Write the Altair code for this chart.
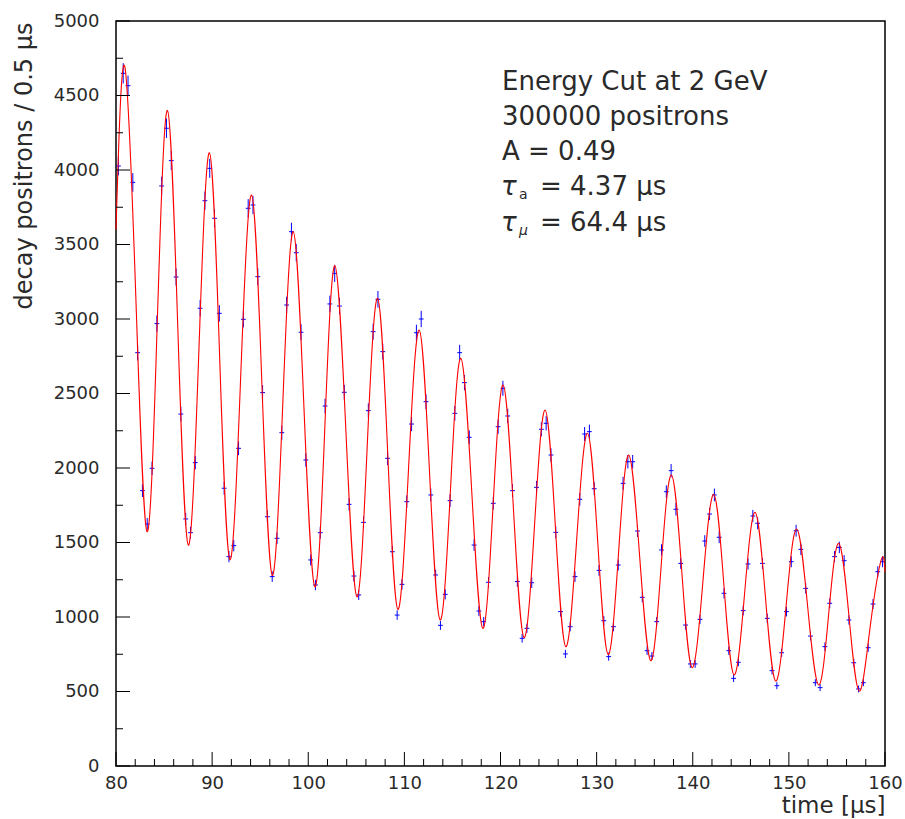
import altair as alt
import pandas as pd

# ---------------- data ----------------
bin_start = 80.25   # first bin centre (µs)
bin_step = 0.5      # bin width (µs)
counts = [
    4027, 4649, 4566, 3917, 2774, 1848, 1624, 1998, 2969, 3893,
    4280, 4063, 3282, 2362, 1658, 1566, 2036, 3072, 3794, 4011,
    3676, 3038, 1864, 1405, 1479, 2132, 2998, 3743, 3765, 3284,
    2506, 1673, 1271, 1528, 2237, 3094, 3586, 3445, 2911, 2054,
    1383, 1215, 1566, 2416, 3101, 3306, 3087, 2508, 1756, 1275,
    1148, 1635, 2385, 2915, 3132, 2781, 2065, 1438, 1013, 1219,
    1774, 2295, 2908, 3000, 2445, 1819, 1282, 944, 1152, 1781,
    2367, 2774, 2573, 2206, 1483, 1040, 969, 1233, 1763, 2277,
    2535, 2349, 1848, 1238, 857, 924, 1230, 1870, 2260, 2300,
    2087, 1568, 1036, 752, 935, 1271, 1790, 2228, 2244, 1861,
    1313, 975, 734, 935, 1349, 1897, 2042, 2042, 1577, 1132,
    774, 738, 969, 1450, 1841, 1982, 1723, 1360, 946, 685,
    685, 984, 1510, 1691, 1819, 1535, 1159, 774, 588, 696,
    1043, 1356, 1678, 1629, 1360, 991, 640, 539, 760, 1036,
    1371, 1579, 1454, 1192, 872, 559, 526, 801, 1092, 1405,
    1467, 1378, 980, 693, 517, 559, 794, 1087, 1304, 1371,
]
times = [bin_start + bin_step * i for i in range(len(counts))]

# fitted curve: peaks, troughs and crossings
fit_t = [80.0, 80.9, 82.07, 83.23, 84.3, 85.35, 86.43, 87.52, 88.63, 89.72,
         90.78, 91.85, 92.97, 94.1, 95.18, 96.26, 97.35, 98.44, 99.56, 100.69,
         101.73, 102.77, 103.92, 105.06, 106.13, 107.21, 108.27, 109.32, 110.43, 111.54,
         112.63, 113.72, 114.8, 115.87, 117.02, 118.16, 119.22, 120.27, 121.36, 122.45,
         123.55, 124.64, 125.72, 126.79, 127.92, 129.05, 130.13, 131.2, 132.27, 133.34,
         134.49, 135.63, 136.7, 137.78, 138.86, 139.93, 141.06, 142.18, 143.24, 144.3,
         145.39, 146.48, 147.56, 148.63, 149.72, 150.81, 151.96, 153.1, 154.14, 155.18,
         156.26, 157.33, 158.48, 159.62, 160.0]
fit_v = [3600, 4698, 3135, 1573, 2990, 4400, 2940, 1483, 2800, 4116,
         2750, 1385, 2610, 3832, 2560, 1280, 2430, 3586, 2395, 1203,
         2280, 3358, 2245, 1136, 2140, 3139, 2095, 1051, 1990, 2926,
         1955, 980, 1860, 2736, 1830, 924, 1740, 2557, 1710, 862,
         1625, 2389, 1595, 801, 1515, 2233, 1490, 749, 1420, 2087,
         1395, 707, 1330, 1953, 1305, 660, 1240, 1823, 1215, 611,
         1155, 1702, 1135, 570, 1080, 1591, 1065, 544, 1020, 1494,
         1000, 503, 945, 1387, 1300]

x_labels = [80, 90, 100, 110, 120, 130, 140, 150, 160]
y_labels = [0, 500, 1000, 1500, 2000, 2500, 3000, 3500, 4000, 4500, 5000]
x_minor = [82, 84, 86, 88, 92, 94, 96, 98, 102, 104, 106, 108, 112, 114, 116, 118,
           122, 124, 126, 128, 132, 134, 136, 138, 142, 144, 146, 148, 152, 154, 156, 158]
y_minor = [250, 750, 1250, 1750, 2250, 2750, 3250, 3750, 4250, 4750]

info_lines = ["Energy Cut at 2 GeV", "300000 positrons", "A = 0.49"]
tau_a = "= 4.37 μs"
tau_mu = "= 64.4 μs"

# ---------------- chart ----------------
W, H = 769, 745
FONT = "DejaVu Sans"
BLUE = "#0000ff"
RED = "#ff0000"
INK = "#2a2a2a"

xs = alt.Scale(domain=[80, 160], nice=False, zero=False)
ys = alt.Scale(domain=[0, 5000], nice=False, zero=True)

df = pd.DataFrame({"t": times, "n": counts})
fit = pd.DataFrame({"t": fit_t, "v": fit_v})

base = alt.Chart(df).transform_calculate(
    lo="datum.n - sqrt(datum.n)",
    hi="datum.n + sqrt(datum.n)",
    tl="datum.t - 0.25",
    tr="datum.t + 0.25",
)

xaxis = alt.Axis(values=x_labels, format="d", ticks=False, domain=False, grid=False,
                 labelFlush=False, labelFontSize=18, labelFont=FONT, labelColor=INK,
                 labelPadding=8, title="time [μs]", titleFont=FONT,
                 titleFontSize=23, titleFontWeight="normal", titleColor=INK,
                 titleAnchor="end", titleAlign="right", titleX=W, titleY=46,
                 titleBaseline="alphabetic")
yaxis = alt.Axis(values=y_labels, format="d", ticks=False, domain=False, grid=False,
                 labelFlush=False, labelFontSize=18, labelFont=FONT, labelColor=INK,
                 labelPadding=17, title="decay positrons / 0.5 μs", titleFont=FONT,
                 titleFontSize=24, titleFontWeight="normal", titleColor=INK,
                 titleAnchor="end", titleAngle=-90, titleAlign="right",
                 titleX=-92, titleY=1, titleBaseline="middle")

vbars = base.mark_rule(color=BLUE, strokeWidth=1).encode(
    x=alt.X("t:Q", scale=xs, axis=xaxis),
    y=alt.Y("lo:Q", scale=ys, axis=yaxis),
    y2="hi:Q",
)
hbars = base.mark_rule(color=BLUE, strokeWidth=1).encode(
    x=alt.X("tl:Q", scale=xs),
    x2="tr:Q",
    y=alt.Y("n:Q", scale=ys),
)
curve = alt.Chart(fit).mark_line(color=RED, strokeWidth=1.1, interpolate="natural").encode(
    x=alt.X("t:Q", scale=xs),
    y=alt.Y("v:Q", scale=ys),
)

def yticks(vals, length):
    return alt.Chart(pd.DataFrame({"v": vals})).mark_rule(color="black", strokeWidth=1).encode(
        y=alt.Y("v:Q", scale=ys), x=alt.value(0), x2=alt.value(length))

def xticks(vals, length):
    return alt.Chart(pd.DataFrame({"t": vals})).mark_rule(color="black", strokeWidth=1).encode(
        x=alt.X("t:Q", scale=xs), y=alt.value(H), y2=alt.value(H - length))

one = pd.DataFrame({"a": [0]})

def label(text, x, y, size=26, style="normal"):
    return alt.Chart(one).mark_text(align="left", baseline="alphabetic", font=FONT,
                                    fontSize=size, fontStyle=style, color=INK).encode(
        x=alt.value(x), y=alt.value(y), text=alt.value(text))

texts = [label(s, 386, 69 + 35 * i) for i, s in enumerate(info_lines)]
texts += [
    label("τ", 385, 174, style="italic"), label("a", 403, 178, size=14), label(tau_a, 424, 174),
    label("τ", 385, 210, style="italic"), label("μ", 403, 214, size=14, style="italic"), label(tau_mu, 424, 210),
]

chart = alt.layer(
    vbars, hbars, curve,
    yticks(y_labels, 14), yticks(y_minor, 7),
    xticks(x_labels, 14), xticks(x_minor, 7),
    *texts,
).properties(
    width=W, height=H,
    autosize=alt.AutoSizeParams(type="none"),
    padding={"left": 116, "top": 21, "right": 20, "bottom": 53},
    background="white",
).configure_view(stroke="black", strokeWidth=1.5)

chart.save("out.html", embed_options={"renderer": "svg", "actions": False})
